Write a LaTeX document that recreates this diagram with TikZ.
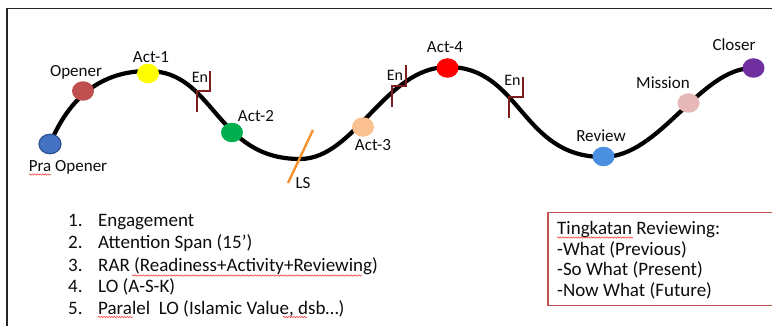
\documentclass[tikz,border=0pt]{standalone}
\usepackage{fontspec}
\setmainfont{Carlito}
\usetikzlibrary{shapes.geometric,decorations.pathmorphing}

\definecolor{frameGray}{HTML}{262626}
\definecolor{praFill}{HTML}{4472C4}
\definecolor{praLine}{HTML}{2F528F}
\definecolor{openerRed}{HTML}{C0504D}
\definecolor{actYellow}{HTML}{FFFF00}
\definecolor{actGreen}{HTML}{00B050}
\definecolor{actPeach}{HTML}{FAC08F}
\definecolor{actRed}{HTML}{FF0000}
\definecolor{reviewBlue}{HTML}{4A8FE0}
\definecolor{missionPink}{HTML}{E6B9B8}
\definecolor{closerPurple}{HTML}{7030A0}
\definecolor{enMaroon}{HTML}{7B1E1E}
\definecolor{lsOrange}{HTML}{F5922F}
\definecolor{boxRed}{HTML}{C0504D}
\definecolor{textDark}{HTML}{0D0D0D}

\tikzset{
  wave/.style={line width=4.2pt, draw=black, line cap=round},
  dot/.style={ellipse, minimum width=22pt, minimum height=19.5pt, inner sep=0pt, draw=none},
  lbl/.style={font=\fontsize{17}{20}\selectfont, text=textDark, anchor=base, inner sep=0pt},
  enlbl/.style={font=\fontsize{16}{19}\selectfont, text=textDark, anchor=base, inner sep=0pt},
  enmark/.style={line width=2pt, draw=enMaroon},
  listtxt/.style={font=\fontsize{19}{22}\selectfont, text=textDark, anchor=base west, inner sep=0pt},
  squiggle/.style={draw=red!80, line width=0.5pt, decorate,
    decoration={snake, amplitude=0.7pt, segment length=2.6pt}},
}

\begin{document}
\begin{tikzpicture}[x=1pt, y=-1pt]
\useasboundingbox (0,0) rectangle (772,326);
\clip (0,0) rectangle (772,326);
\fill[white] (0,0) rectangle (772,326);

% outer frame (runs off the right and bottom edges)
\draw[line width=1.6pt, draw=frameGray] (7,340) -- (7,8.5) -- (790,8.5);

% the wave
\coordinate (w0) at (50,144);
\coordinate (w1) at (148,71);
\coordinate (w2) at (300,159);
\coordinate (w3) at (448,67);
\coordinate (w4) at (603,157);
\coordinate (w5) at (753,68);
\draw[wave] (w0)
  .. controls (66,105) and (95,71) .. (w1)
  .. controls (215,71) and (215,159) .. (w2)
  .. controls (355,159) and (385,67) .. (w3)
  .. controls (521,67) and (521,157) .. (w4)
  .. controls (660,157) and (700,68) .. (w5);

% engagement steps
\draw[enmark] (197,112) -- (197,91) -- (210,91) -- (210,71);
\draw[enmark] (392,107) -- (392,86) -- (406,86) -- (406,65);
\draw[enmark] (509,118) -- (509,97) -- (523,97) -- (523,77);
\node[enlbl] (en1) at (200,83) {En};
\node[enlbl] (en2) at (395,81) {En};
\node[enlbl] (en3) at (512.5,86) {En};

% learning span cut
\draw[line width=2.4pt, draw=lsOrange] (288,183) -- (313,130);
\node[lbl] (ls) at (303,189) {LS};

% stages on the wave
\node[dot, fill=praFill, draw=praLine, line width=1.2pt] (pra) at (50,144) {};
\node[dot, fill=openerRed] (opener) at (83,91) {};
\node[dot, fill=actYellow] (act1) at (148,73.5) {};
\node[dot, fill=actGreen] (act2) at (232,132.5) {};
\node[dot, fill=actPeach] (act3) at (363,127) {};
\node[dot, fill=actRed] (act4) at (447.5,68) {};
\node[dot, fill=reviewBlue] (review) at (603.5,156.5) {};
\node[dot, fill=missionPink] (mission) at (688.5,103) {};
\node[dot, fill=closerPurple] (closer) at (753.5,68) {};

\node[lbl] (lpra) at (68,172) {Pra Opener};
\node[lbl] (lopener) at (76,77) {Opener};
\node[lbl] (lact1) at (151,63) {Act-1};
\node[lbl] (lact2) at (256,122) {Act-2};
\node[lbl] (lact3) at (373,151) {Act-3};
\node[lbl] (lact4) at (445,53) {Act-4};
\node[lbl] (lreview) at (601,142) {Review};
\node[lbl] (lmission) at (663,89) {Mission};
\node[lbl] (lcloser) at (734,51) {Closer};

% numbered list
\node[listtxt] (n1) at (68,227) {1.};
\node[listtxt] (n2) at (68,249) {2.};
\node[listtxt] (n3) at (68,271.5) {3.};
\node[listtxt] (n4) at (68,292.5) {4.};
\node[listtxt] (n5) at (68,314) {5.};
\node[listtxt] (t1) at (98,227) {Engagement};
\node[listtxt] (t2) at (98,249) {Attention Span (15’)};
\node[listtxt] (t3) at (98,271.5) {RAR (Readiness+Activity+Reviewing)};
\node[listtxt] (t4) at (98,292.5) {LO (A-S-K)};
\node[listtxt] (t5) at (98,314) {Paralel\ \ LO (Islamic Value, dsb…)};

% reviewing levels box (runs off the right edge)
\draw[line width=1.1pt, draw=boxRed] (790,212.5) -- (548,212.5) -- (548,305.5) -- (790,305.5);
\node[listtxt] (r1) at (557,234.3) {Tingkatan Reviewing:};
\node[listtxt] (r2) at (557,255) {-What (Previous)};
\node[listtxt] (r3) at (557,275.7) {-So What (Present)};
\node[listtxt] (r4) at (557,296) {-Now What (Future)};

% spelling marks
\draw[squiggle] (29,174.5) -- (51,174.5);
\draw[squiggle] (132,275.5) -- (362,275.5);
\draw[squiggle] (98,317) -- (133,317);
\draw[squiggle] (283,317) -- (307,317);
\draw[squiggle] (557,237.5) -- (633,237.5);
\end{tikzpicture}
\end{document}
